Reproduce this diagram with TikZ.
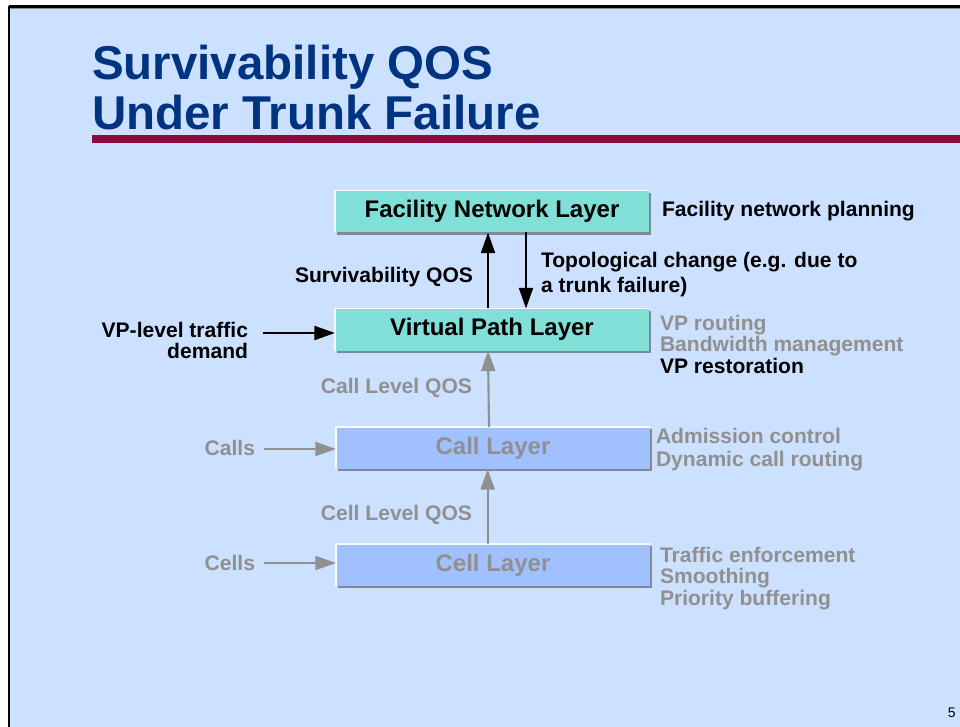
\documentclass[tikz,border=0pt]{standalone}
\usepackage{fontspec}
\setmainfont{Liberation Sans}
\usetikzlibrary{arrows.meta}
\definecolor{slidebg}{RGB}{204,224,255}
\definecolor{titlenavy}{RGB}{0,51,128}
\definecolor{barred}{RGB}{144,9,58}
\definecolor{tealbox}{RGB}{128,224,216}
\definecolor{bluebox}{RGB}{160,192,255}
\definecolor{dimgrey}{RGB}{144,144,144}
\definecolor{boxshade}{RGB}{128,136,150}
\begin{document}
\begin{tikzpicture}[x=.75pt,y=-.75pt,
  layerbox/.style={minimum width=235.5pt,minimum height=31.5pt,inner sep=0pt,outer sep=0pt,
    font=\fontsize{18}{21.6}\selectfont\bfseries,
    preaction={fill=boxshade,transform canvas={shift={(1.8pt,-1.8pt)}}}},
  lab/.style={inner sep=0pt,outer sep=0pt,font=\fontsize{15.8}{16.1}\selectfont\bfseries},
  bigarrow/.style={line width=1.6pt,-{Triangle[length=15.5pt,width=10.5pt]}},
  hilite/.style={draw=white!85!slidebg,line width=.8pt}]
\path[use as bounding box,fill=white] (0,0) rectangle (960,727);
\path[fill=slidebg] (9,8) rectangle (960,727);
\draw[line width=1.9pt] (9,6.5) -- (960,6.5);
\draw[line width=1.9pt] (9,6) -- (9,727);
\draw[dimgrey,line width=.8pt] (10,8.6) -- (960,8.6);
% title
\node[inner sep=0pt,anchor=base west,text=titlenavy,font=\fontsize{35.6}{40}\selectfont\bfseries] (title1) at (92,80) {Survivability QOS};
\node[inner sep=0pt,anchor=base west,text=titlenavy,font=\fontsize{35.6}{40}\selectfont\bfseries] (title2) at (92,130) {Under Trunk Failure};
\path[fill=barred] (92,135) rectangle (960,143);
% layers
\node[layerbox,fill=tealbox] (fac) at (492,211.5) {Facility Network Layer};
\node[layerbox,fill=tealbox] (vp) at (492,329.5) {Virtual Path Layer};
\node[layerbox,fill=bluebox,text=dimgrey] (call) at (493,448) {Call Layer};
\node[layerbox,fill=bluebox,text=dimgrey] (cell) at (493,565) {Cell Layer};
\foreach \b in {fac,vp,call,cell}
  \draw[hilite] (\b.south west) -- (\b.north west) -- (\b.north east);
% arrows between layers
\draw[bigarrow] ([xshift=-3pt]vp.north) -- ([xshift=-3pt]fac.south);
\draw[bigarrow] ([xshift=25.5pt]fac.south) -- ([xshift=25.5pt]vp.north);
\draw[bigarrow,dimgrey] ([xshift=-3pt]call.north) -- ([xshift=-3pt]vp.south);
\draw[bigarrow,dimgrey] ([xshift=-4pt]cell.north) -- ([xshift=-4pt]call.south);
% inputs
\coordinate (vpin) at (263,333);
\coordinate (callin) at (264,449);
\coordinate (cellin) at (264,563);
\draw[bigarrow] (vpin) -- (vpin -| vp.west);
\draw[bigarrow,dimgrey] (callin) -- (callin -| call.west);
\draw[bigarrow,dimgrey] (cellin) -- (cellin -| cell.west);
% labels (multi-line nodes sit on their last line)
\node[lab,anchor=base west] (fnp) at (662,217) {Facility network planning};
\node[lab,anchor=base east] (survqos) at (473,282) {Survivability QOS};
\node[lab,anchor=base west,align=left,font=\fontsize{15.8}{18.75}\selectfont\bfseries] (topo) at (541,292) {Topological change (e.g. due to\\a trunk failure)};
\node[lab,anchor=base east,align=right,font=\fontsize{15.8}{15.75}\selectfont\bfseries] (vpdemand) at (248,358) {VP-level traffic\\demand};
\node[lab,anchor=base west,align=left] (vptasks) at (660,373) {\textcolor{dimgrey}{VP routing}\\\textcolor{dimgrey}{Bandwidth management}\\VP restoration};
\node[lab,anchor=base east,text=dimgrey] (callqos) at (472,393) {Call Level QOS};
\node[lab,anchor=base east,text=dimgrey] (calls) at (255,455) {Calls};
\node[lab,anchor=base west,align=left,text=dimgrey,font=\fontsize{15.8}{17.25}\selectfont\bfseries] (calltasks) at (656,466) {Admission control\\Dynamic call routing};
\node[lab,anchor=base east,text=dimgrey] (cellqos) at (472,520) {Cell Level QOS};
\node[lab,anchor=base east,text=dimgrey] (cells) at (255,570) {Cells};
\node[lab,anchor=base west,align=left,text=dimgrey] (celltasks) at (660,605) {Traffic enforcement\\Smoothing\\Priority buffering};
\node[inner sep=0pt,anchor=base east,font=\fontsize{10.5}{12}\selectfont] (pageno) at (956,717) {5};
\end{tikzpicture}
\end{document}
